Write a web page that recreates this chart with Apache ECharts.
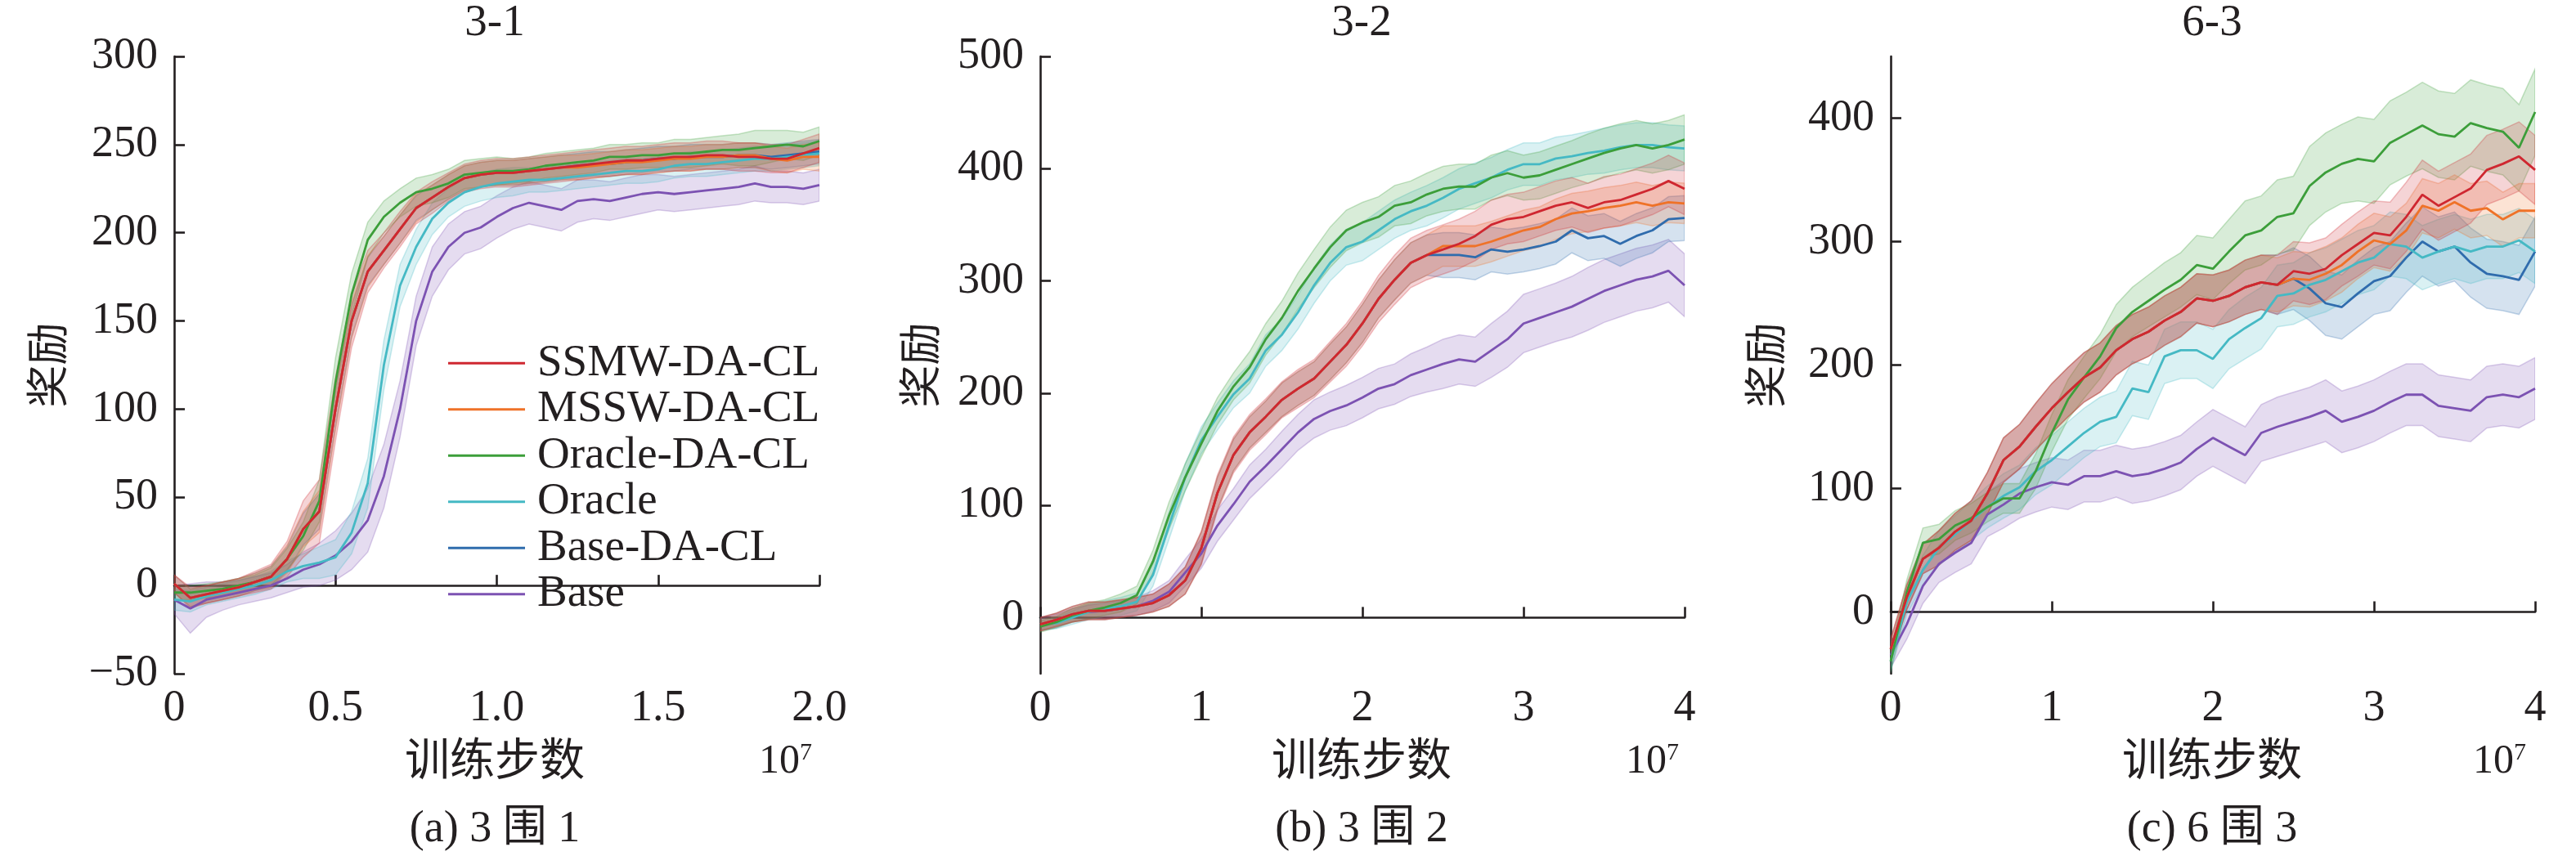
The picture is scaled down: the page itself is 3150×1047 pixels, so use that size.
<!DOCTYPE html>
<html>
<head>
<meta charset="utf-8">
<script src="https://cdn.jsdelivr.net/npm/echarts@6/dist/echarts.min.js"></script>
<style>
html, body { margin: 0; padding: 0; background: #fff; }
#abc { width: 3150px; height: 1047px; }
</style>
</head>
<body>
<div id="abc"></div>
<script>
// 横轴 (单位 1e7 步)
let x1 = [0,0.05,0.1,0.15,0.2,0.25,0.3,0.35,0.4,0.45,0.5,0.55,0.6,0.65,0.7,0.75,0.8,0.85,0.9,0.95,1.0,1.05,1.1,1.15,1.2,1.25,1.3,1.35,1.4,1.45,1.5,1.55,1.6,1.65,1.7,1.75,1.8,1.85,1.9,1.95,2.0]
let x2 = [0,0.1,0.2,0.3,0.4,0.5,0.6,0.7,0.8,0.9,1.0,1.1,1.2,1.3,1.4,1.5,1.6,1.7,1.8,1.9,2.0,2.1,2.2,2.3,2.4,2.5,2.6,2.7,2.8,2.9,3.0,3.1,3.2,3.3,3.4,3.5,3.6,3.7,3.8,3.9,4.0]

let names = ['SSMW-DA-CL', 'MSSW-DA-CL', 'Oracle-DA-CL', 'Oracle', 'Base-DA-CL', 'Base']
let panelTitles = ['3-1', '3-2', '6-3']
let captions = ['(a) 3 围 1', '(b) 3 围 2', '(c) 6 围 3']
let yTicks2 = [0, 100, 200, 300, 400, 500]
let yTicks3 = [0, 100, 200, 300, 400]

// 3-1 均值
let red1 = [1,-7,-5,-3,-1,2,5,15,32,42,100,150,178,190,202,214,220,226,231,233,234,234,235,236,237,238,239,240,241,241,242,243,243,244,244,243,243,242,242,245,248]
let orange1 = [1,-7,-5,-3,-1,2,5,15,32,42,100,150,178,190,202,214,220,226,231,233,234,234,235,236,237,237,238,239,240,240,241,242,242,243,243,244,244,242,241,243,243]
let green1 = [-4,-4,-3,-2,0,2,5,15,28,48,115,165,196,209,217,223,225,228,233,234,235,235,236,238,239,240,241,243,243,244,244,245,245,246,247,247,248,249,250,249,252]
let cyan1 = [-8,-9,-6,-4,-2,0,3,8,11,13,16,30,58,125,170,192,208,217,223,226,228,229,230,230,231,232,233,234,235,235,236,238,239,239,240,241,242,242,243,244,245]
let blue1 = [1,-7,-5,-3,-1,2,5,15,32,42,100,150,178,190,202,214,220,226,231,233,234,234,235,236,237,238,239,239,240,241,242,242,243,243,243,244,244,243,244,245,246]
let purple1 = [-8,-13,-8,-6,-4,-2,0,4,9,12,17,25,37,62,100,150,178,192,200,203,209,214,217,215,213,218,219,218,220,222,223,222,223,224,225,226,228,226,226,225,227]
// 3-1 阴影半宽
let sdRed1 = [5,6,5,5,5,6,7,10,16,18,18,15,12,10,10,9,9,8,8,8,8,8,8,8,8,8,8,8,8,8,8,8,8,8,8,8,8,8,8,8,8]
let sdOrange1 = [5,5,5,5,5,5,6,8,10,12,12,10,9,8,8,8,7,7,7,7,7,7,7,7,7,7,7,7,7,7,7,7,7,7,7,7,7,7,7,7,8]
let sdGreen1 = [4,4,4,4,4,4,5,6,8,12,14,12,10,9,8,8,8,8,8,8,8,7,7,7,7,7,7,7,7,7,7,8,8,8,8,9,10,9,8,8,8]
let sdCyan1 = [6,6,5,5,5,5,5,6,7,9,10,12,14,14,12,10,9,8,8,8,8,8,7,7,7,7,7,7,7,7,7,7,7,7,7,7,7,7,7,7,7]
let sdBlue1 = [5,5,5,5,5,5,6,7,9,10,10,9,8,8,8,7,7,7,7,7,7,7,7,7,7,7,7,7,7,7,7,7,7,7,7,7,7,7,7,7,7]
let sdPurple1 = [8,14,10,8,7,7,7,8,10,12,14,16,18,18,16,14,14,13,12,12,12,12,12,12,12,12,11,11,11,11,10,10,10,10,10,10,10,9,9,9,9]

// 3-2 均值
let red2 = [-6,-2,3,6,6,8,10,13,20,33,62,111,145,165,179,194,204,213,228,243,262,284,301,316,323,328,333,340,350,355,357,362,367,370,365,370,372,377,382,389,382]
let orange2 = [-6,-2,3,6,6,8,10,13,20,33,62,111,145,165,179,194,204,213,228,243,262,284,301,316,323,331,331,331,335,340,345,348,355,360,362,365,367,370,367,370,369]
let green2 = [-8,-4,2,6,9,13,20,50,91,125,155,184,206,223,248,267,291,311,330,345,352,357,367,370,377,382,384,384,392,396,392,394,399,404,409,414,418,421,418,421,426]
let cyan2 = [-6,-5,0,5,8,10,14,38,82,125,158,179,199,213,238,252,272,296,316,330,335,345,355,362,367,374,382,387,392,399,404,404,409,411,414,416,419,421,421,419,418]
let blue2 = [-6,-2,3,6,6,8,10,13,20,33,62,111,145,165,179,194,204,213,228,243,262,284,301,316,323,323,323,321,328,326,328,331,335,345,338,340,333,340,345,355,356]
let purple2 = [-6,-3,2,5,6,8,10,15,23,40,57,82,101,121,135,150,165,177,184,189,196,204,208,216,221,226,230,228,238,248,262,267,272,277,284,291,296,301,304,309,296]
let sdRed2 = [6,6,7,8,8,8,8,8,10,12,15,16,16,16,16,16,17,17,18,19,20,21,22,22,22,22,22,22,22,22,22,22,22,22,22,23,23,23,23,23,23]
let sdOrange2 = [6,6,7,8,8,8,8,8,10,12,14,14,14,14,14,15,15,15,16,16,17,17,18,18,18,18,18,18,18,18,18,18,18,18,18,18,18,18,18,18,18]
let sdGreen2 = [5,5,6,7,7,8,8,10,12,12,12,12,12,14,14,15,16,17,18,18,18,18,18,19,19,20,20,20,20,20,20,21,21,21,22,22,22,22,22,22,22]
let sdCyan2 = [5,5,6,7,7,8,8,10,12,12,12,12,12,13,14,14,15,16,16,16,17,17,17,17,18,18,18,18,18,18,19,19,19,19,19,20,20,20,20,20,20]
let sdBlue2 = [6,6,7,8,8,8,8,8,10,12,14,14,14,14,14,15,15,15,16,16,17,17,18,18,18,20,20,20,20,20,20,20,20,20,20,20,20,20,20,20,20]
let sdPurple2 = [6,6,6,6,7,7,8,9,10,12,13,14,14,15,15,16,16,17,17,18,18,18,18,19,20,22,22,22,24,25,26,26,26,27,28,28,28,28,28,28,28]

// 6-3 均值
let red3 = [-30,12,43,52,65,74,96,123,134,150,165,178,190,198,212,221,227,236,243,254,252,256,263,267,265,276,274,278,289,298,307,305,320,338,329,336,343,358,363,369,358]
let orange3 = [-30,12,43,52,65,74,96,123,134,150,165,178,190,198,212,221,227,236,243,254,252,256,263,267,265,270,269,274,281,292,301,298,309,329,325,332,325,327,318,325,325]
let green3 = [-40,16,56,59,70,76,85,92,92,114,145,172,190,207,230,243,252,261,269,281,278,292,305,309,320,323,345,356,363,367,365,380,387,394,387,385,396,392,389,376,405]
let cyan3 = [-40,8,34,52,63,74,85,94,101,114,123,134,145,154,158,181,178,207,212,212,205,221,230,238,256,258,265,269,276,283,287,298,296,287,292,296,292,296,296,301,292]
let blue3 = [-30,12,43,52,65,74,96,123,134,150,165,178,190,198,212,221,227,236,243,254,252,256,263,267,265,270,262,250,247,258,268,272,287,300,292,296,283,274,272,269,292]
let purple3 = [-35,-10,21,39,48,56,79,87,96,101,105,103,110,110,114,110,112,116,121,132,141,134,127,145,150,154,158,163,154,158,163,170,176,176,167,165,163,174,176,174,181]
let sdRed3 = [8,10,12,14,15,16,17,18,18,19,20,20,20,20,20,20,20,20,20,20,21,21,22,22,24,24,25,25,25,26,26,27,28,28,28,28,28,28,28,28,28]
let sdOrange3 = [8,10,12,14,15,16,17,18,18,19,20,20,20,20,20,20,20,20,20,20,21,21,22,22,22,22,22,22,22,22,22,22,22,22,22,22,22,22,22,22,22]
let sdGreen3 = [8,10,12,12,12,12,12,12,12,14,15,16,17,18,19,20,21,22,22,24,25,26,28,28,30,30,32,32,32,34,34,34,34,35,35,35,35,35,35,35,35]
let sdCyan3 = [8,10,12,14,15,16,17,18,18,19,20,20,20,20,21,22,22,22,23,23,24,24,25,25,25,25,26,26,26,26,26,26,26,26,26,26,26,26,26,26,26]
let sdBlue3 = [8,10,12,14,15,16,17,18,18,19,20,20,20,20,20,20,20,20,20,20,21,21,22,22,24,25,26,26,26,27,27,28,28,28,28,28,28,28,28,28,28]
let sdPurple3 = [10,12,14,15,16,17,18,19,20,20,20,20,21,21,21,22,22,22,22,22,23,23,23,23,24,24,24,25,25,25,25,25,25,25,25,25,25,25,25,25,25]

let colors = ['#cf2730', '#ef7228', '#3c9e3a', '#45b9c4', '#2f6cad', '#7c52b2']
let ink = '#231f20'
let serif = '"Liberation Serif", "Times New Roman", serif'
let mixed = '"Liberation Serif", "Noto Sans CJK SC", serif'

let panels = [
    { xs: x1, means: [red1, orange1, green1, cyan1, blue1, purple1], sds: [sdRed1, sdOrange1, sdGreen1, sdCyan1, sdBlue1, sdPurple1] },
    { xs: x2, means: [red2, orange2, green2, cyan2, blue2, purple2], sds: [sdRed2, sdOrange2, sdGreen2, sdCyan2, sdBlue2, sdPurple2] },
    { xs: x2, means: [red3, orange3, green3, cyan3, blue3, purple3], sds: [sdRed3, sdOrange3, sdGreen3, sdCyan3, sdBlue3, sdPurple3] }
]

// 画布位置
let grids = [
    { left: 213, top: 69, width: 789, height: 755 },
    { left: 1272, top: 69, width: 788, height: 755 },
    { left: 2312, top: 69, width: 788, height: 755 }
]
let centers = [605, 1665, 2705]
let yNameGap = [124, 116, 122]
let expX = [928, 1988, 3024]

function rgba(hex, a) {
    let n = parseInt(hex.slice(1), 16)
    return 'rgba(' + (n >> 16) + ',' + ((n >> 8) & 255) + ',' + (n & 255) + ',' + a + ')'
}

function minus(v) {
    return String(v).replace('-', '\u2212')
}

function bandSeries(gi, xs, mean, sd, color) {
    return {
        type: 'custom',
        xAxisIndex: gi,
        yAxisIndex: gi,
        silent: true,
        clip: true,
        z: 1,
        data: [[xs[0], mean[0]]],
        renderItem: function (params, api) {
            let up = []
            let lo = []
            for (let i = 0; i < xs.length; i++) {
                up.push(api.coord([xs[i], mean[i] + sd[i]]))
                lo.push(api.coord([xs[i], mean[i] - sd[i]]))
            }
            return {
                type: 'polygon',
                shape: { points: up.concat(lo.reverse()) },
                style: { fill: rgba(color, 0.2), stroke: rgba(color, 0.28), lineWidth: 1.5 }
            }
        }
    }
}

let axisLine = { show: true, lineStyle: { color: ink, width: 2.6 } }
let tick = { show: true, inside: true, length: 13, lineStyle: { color: ink, width: 2.6 } }

let xAxis = []
let yAxis = []
let series = []
let graphic = []

let drawOrder = [5, 4, 3, 2, 1, 0]

for (let g = 0; g < 3; g++) {
    let p = panels[g]
    xAxis.push({
        type: 'value', gridIndex: g, min: 0, max: g === 0 ? 2.0 : 4, interval: g === 0 ? 0.5 : 1,
        axisLine: axisLine, axisTick: tick, splitLine: { show: false },
        axisLabel: {
            color: ink, fontFamily: serif, fontSize: 54, margin: 16,
            formatter: function (v) { return g === 0 && v !== 0 ? v.toFixed(1) : String(v) },
            showMinLabel: true, showMaxLabel: true
        }
    })
    let ya = {
        type: 'value', gridIndex: g, min: -50, max: [300, 500, 450][g], interval: 50,
        name: '奖励', nameLocation: 'middle', nameGap: yNameGap[g],
        nameTextStyle: { fontSize: 52, fontFamily: mixed, color: ink },
        axisLine: axisLine, splitLine: { show: false },
        axisTick: Object.assign({}, tick),
        axisLabel: { color: ink, fontFamily: serif, fontSize: 54, margin: 20, formatter: minus }
    }
    if (g !== 0) {
        let yt = g === 1 ? yTicks2 : yTicks3
        ya.axisLabel.customValues = yt
        ya.axisTick.customValues = yt
    }
    yAxis.push(ya)

    for (let k of drawOrder) {
        series.push(bandSeries(g, p.xs, p.means[k], p.sds[k], colors[k]))
    }
    for (let k of drawOrder) {
        series.push({
            name: names[k],
            type: 'line',
            xAxisIndex: g,
            yAxisIndex: g,
            color: colors[k],
            showSymbol: false,
            symbol: 'none',
            z: 3,
            lineStyle: { width: 2.8, color: colors[k] },
            data: p.xs.map((x, i) => [x, p.means[k][i]])
        })
    }

    let cx = centers[g]
    graphic.push({ type: 'text', x: cx, y: 29, style: { text: panelTitles[g], fontSize: 55, fontFamily: serif, fill: ink, align: 'center', verticalAlign: 'middle' } })
    graphic.push({ type: 'text', x: cx, y: 934, style: { text: '训练步数', fontSize: 55, fontFamily: mixed, fill: ink, align: 'center', verticalAlign: 'middle' } })
    graphic.push({ type: 'text', x: cx, y: 1015, style: { text: captions[g], fontSize: 54, fontFamily: mixed, fill: ink, align: 'center', verticalAlign: 'middle' } })
    graphic.push({ type: 'text', x: expX[g], y: 932, style: { text: '10', fontSize: 50, fontFamily: serif, fill: ink, align: 'left', verticalAlign: 'middle' } })
    graphic.push({ type: 'text', x: expX[g] + 50, y: 921, style: { text: '7', fontSize: 30, fontFamily: serif, fill: ink, align: 'left', verticalAlign: 'middle' } })
}

let option = {
    backgroundColor: '#fff',
    animation: false,
    grid: grids,
    xAxis: xAxis,
    yAxis: yAxis,
    legend: {
        data: names,
        orient: 'vertical',
        left: 543,
        top: 411,
        icon: 'rect',
        itemWidth: 94,
        itemHeight: 3,
        itemGap: 0,
        selectedMode: false,
        textStyle: { fontSize: 55, lineHeight: 56.5, fontFamily: serif, color: ink, padding: [0, 0, 0, 10] }
    },
    graphic: graphic,
    series: series
}

let myChart = echarts.init(document.getElementById('abc'))
myChart.setOption(option)
</script>
</body>
</html>
